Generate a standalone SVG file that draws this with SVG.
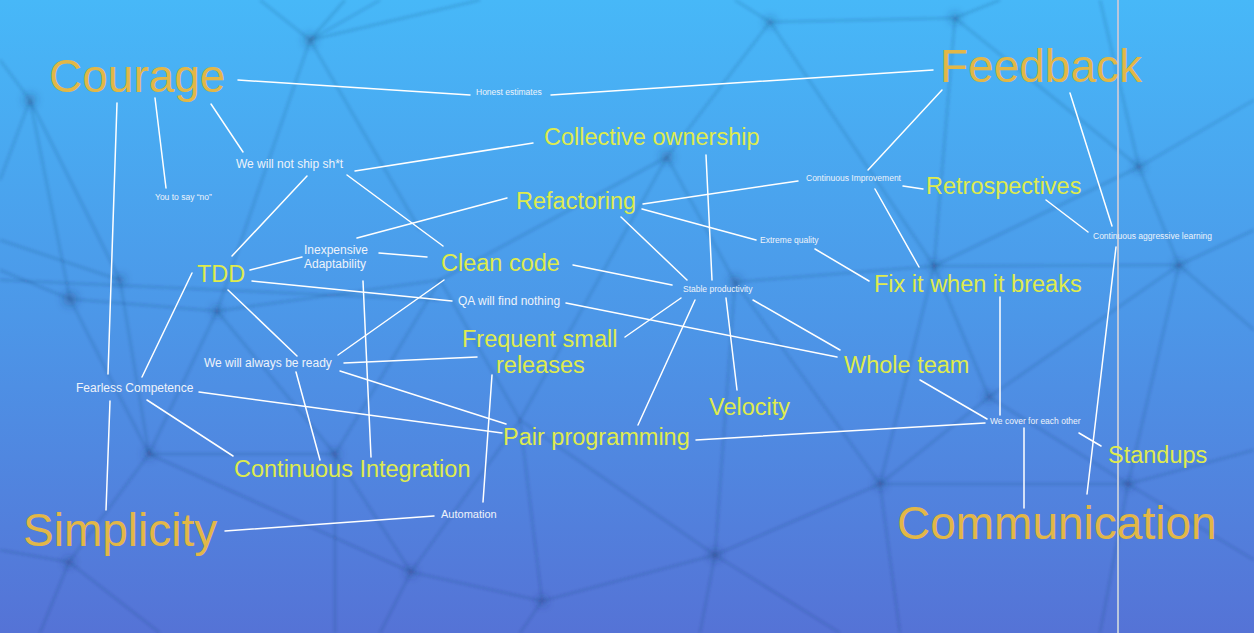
<svg xmlns="http://www.w3.org/2000/svg" width="1254" height="633" viewBox="0 0 1254 633">
<defs>
<linearGradient id="bg" x1="0" y1="0" x2="0" y2="1">
<stop offset="0" stop-color="#47b8f8"/>
<stop offset="0.5" stop-color="#4c97e8"/>
<stop offset="1" stop-color="#5573d6"/>
</linearGradient>
<filter id="blur" x="-5%" y="-5%" width="110%" height="110%"><feGaussianBlur stdDeviation="1.5"/></filter>
<filter id="blur2" x="-100%" y="-100%" width="300%" height="300%"><feGaussianBlur stdDeviation="4"/></filter>
</defs>
<style>
.big{font-family:"Liberation Sans",Arial,sans-serif;font-size:46px;fill:#e2b747}
.mid{font-family:"Liberation Sans",Arial,sans-serif;font-size:23.5px;fill:#dfeb4d}
.sm{font-family:"Liberation Sans",Arial,sans-serif;font-size:12px;fill:#eef3fa}
.xs{font-family:"Liberation Sans",Arial,sans-serif;font-size:8.5px;fill:#eef3fa}
.c line{stroke:#ffffff;stroke-width:1.5;stroke-linecap:round}
.net line{stroke:#1b3466;stroke-width:2;stroke-opacity:0.2}
.dots circle{fill:#1b3466;fill-opacity:0.35}
</style>
<rect width="1254" height="633" fill="url(#bg)"/>
<g class="net" filter="url(#blur)">
<line x1="310" y1="40" x2="260" y2="0"/>
<line x1="310" y1="40" x2="345" y2="0"/>
<line x1="310" y1="40" x2="480" y2="0"/>
<line x1="310" y1="40" x2="380" y2="0"/>
<line x1="310" y1="40" x2="217" y2="311"/>
<line x1="310" y1="40" x2="420" y2="230"/>
<line x1="30" y1="100" x2="0" y2="60"/>
<line x1="30" y1="100" x2="70" y2="299"/>
<line x1="30" y1="100" x2="120" y2="280"/>
<line x1="30" y1="100" x2="0" y2="180"/>
<line x1="70" y1="299" x2="0" y2="270"/>
<line x1="70" y1="299" x2="217" y2="311"/>
<line x1="70" y1="299" x2="149" y2="454"/>
<line x1="120" y1="280" x2="149" y2="454"/>
<line x1="120" y1="280" x2="0" y2="240"/>
<line x1="0" y1="280" x2="440" y2="300"/>
<line x1="217" y1="311" x2="335" y2="454"/>
<line x1="217" y1="311" x2="149" y2="454"/>
<line x1="217" y1="311" x2="440" y2="280"/>
<line x1="149" y1="454" x2="335" y2="454"/>
<line x1="149" y1="454" x2="69" y2="562"/>
<line x1="149" y1="454" x2="411" y2="572"/>
<line x1="69" y1="562" x2="0" y2="550"/>
<line x1="69" y1="562" x2="40" y2="633"/>
<line x1="69" y1="562" x2="160" y2="633"/>
<line x1="335" y1="454" x2="411" y2="572"/>
<line x1="335" y1="454" x2="335" y2="633"/>
<line x1="335" y1="454" x2="440" y2="280"/>
<line x1="411" y1="572" x2="542" y2="601"/>
<line x1="411" y1="572" x2="380" y2="633"/>
<line x1="411" y1="572" x2="520" y2="420"/>
<line x1="542" y1="601" x2="715" y2="555"/>
<line x1="542" y1="601" x2="520" y2="633"/>
<line x1="542" y1="601" x2="520" y2="420"/>
<line x1="520" y1="420" x2="440" y2="280"/>
<line x1="520" y1="420" x2="715" y2="555"/>
<line x1="440" y1="280" x2="667" y2="157"/>
<line x1="667" y1="157" x2="770" y2="22"/>
<line x1="667" y1="157" x2="735" y2="282"/>
<line x1="667" y1="157" x2="520" y2="420"/>
<line x1="770" y1="22" x2="955" y2="18"/>
<line x1="770" y1="22" x2="735" y2="0"/>
<line x1="770" y1="22" x2="934" y2="266"/>
<line x1="955" y1="18" x2="934" y2="266"/>
<line x1="955" y1="18" x2="1139" y2="167"/>
<line x1="955" y1="18" x2="1000" y2="0"/>
<line x1="735" y1="282" x2="934" y2="266"/>
<line x1="735" y1="282" x2="715" y2="555"/>
<line x1="735" y1="282" x2="880" y2="484"/>
<line x1="934" y1="266" x2="1179" y2="265"/>
<line x1="934" y1="266" x2="989" y2="397"/>
<line x1="934" y1="266" x2="1139" y2="167"/>
<line x1="934" y1="266" x2="880" y2="484"/>
<line x1="1139" y1="167" x2="1254" y2="100"/>
<line x1="1139" y1="167" x2="1100" y2="0"/>
<line x1="1139" y1="167" x2="1179" y2="265"/>
<line x1="1179" y1="265" x2="1254" y2="230"/>
<line x1="1179" y1="265" x2="1254" y2="330"/>
<line x1="1179" y1="265" x2="1128" y2="484"/>
<line x1="989" y1="397" x2="1128" y2="484"/>
<line x1="989" y1="397" x2="880" y2="484"/>
<line x1="989" y1="397" x2="1179" y2="265"/>
<line x1="880" y1="484" x2="715" y2="555"/>
<line x1="880" y1="484" x2="900" y2="633"/>
<line x1="880" y1="484" x2="1128" y2="484"/>
<line x1="1128" y1="484" x2="1254" y2="450"/>
<line x1="1128" y1="484" x2="1254" y2="560"/>
<line x1="1128" y1="484" x2="1100" y2="633"/>
<line x1="715" y1="555" x2="700" y2="633"/>
<line x1="715" y1="555" x2="840" y2="633"/>
</g>
<g class="dots" filter="url(#blur2)">
<circle cx="310" cy="40" r="6"/><circle cx="30" cy="100" r="6"/><circle cx="70" cy="299" r="7"/>
<circle cx="120" cy="280" r="5"/><circle cx="217" cy="311" r="5"/><circle cx="149" cy="454" r="5"/>
<circle cx="69" cy="562" r="5"/><circle cx="335" cy="454" r="5"/><circle cx="411" cy="572" r="5"/>
<circle cx="542" cy="601" r="5"/><circle cx="667" cy="157" r="6"/><circle cx="735" cy="282" r="6"/>
<circle cx="770" cy="22" r="5"/><circle cx="955" cy="18" r="5"/><circle cx="934" cy="266" r="5"/>
<circle cx="1139" cy="167" r="5"/><circle cx="1179" cy="265" r="5"/><circle cx="989" cy="397" r="5"/>
<circle cx="880" cy="484" r="5"/><circle cx="1128" cy="484" r="5"/><circle cx="715" cy="555" r="6"/>
</g>
<line x1="1118" y1="0" x2="1118" y2="633" stroke="#b9c6dc" stroke-width="2"/>
<g class="c" id="connectors">
<line x1="238" y1="80" x2="470" y2="95"/>
<line x1="551" y1="95" x2="933" y2="70"/>
<line x1="211" y1="104" x2="243" y2="152"/>
<line x1="155" y1="98" x2="166" y2="188"/>
<line x1="117" y1="103" x2="108" y2="374"/>
<line x1="110" y1="401" x2="106" y2="510"/>
<line x1="355" y1="171" x2="533" y2="143"/>
<line x1="307" y1="176" x2="232" y2="256"/>
<line x1="347" y1="175" x2="443" y2="246"/>
<line x1="250" y1="270" x2="302" y2="257"/>
<line x1="379" y1="253" x2="427" y2="257"/>
<line x1="507" y1="198" x2="357" y2="238"/>
<line x1="252" y1="281" x2="452" y2="301"/>
<line x1="228" y1="290" x2="297" y2="356"/>
<line x1="192" y1="273" x2="142" y2="377"/>
<line x1="444" y1="280" x2="338" y2="355"/>
<line x1="344" y1="363" x2="477" y2="357"/>
<line x1="340" y1="371" x2="506" y2="424"/>
<line x1="199" y1="392" x2="502" y2="433"/>
<line x1="296" y1="372" x2="320" y2="460"/>
<line x1="363" y1="281" x2="371" y2="457"/>
<line x1="147" y1="400" x2="233" y2="456"/>
<line x1="492" y1="375" x2="483" y2="502"/>
<line x1="225" y1="531" x2="434" y2="516"/>
<line x1="573" y1="265" x2="672" y2="285"/>
<line x1="621" y1="217" x2="687" y2="280"/>
<line x1="706" y1="155" x2="712" y2="280"/>
<line x1="643" y1="204" x2="798" y2="181"/>
<line x1="642" y1="209" x2="756" y2="240"/>
<line x1="815" y1="249" x2="869" y2="281"/>
<line x1="868" y1="170" x2="942" y2="90"/>
<line x1="903" y1="186" x2="923" y2="189"/>
<line x1="875" y1="189" x2="919" y2="267"/>
<line x1="1070" y1="93" x2="1112" y2="226"/>
<line x1="1046" y1="200" x2="1088" y2="232"/>
<line x1="1116" y1="247" x2="1087" y2="494"/>
<line x1="1000" y1="297" x2="1000" y2="415"/>
<line x1="920" y1="380" x2="987" y2="419"/>
<line x1="1079" y1="433" x2="1101" y2="446"/>
<line x1="1024" y1="428" x2="1024" y2="508"/>
<line x1="696" y1="440" x2="985" y2="423"/>
<line x1="695" y1="300" x2="638" y2="425"/>
<line x1="726" y1="298" x2="737" y2="390"/>
<line x1="753" y1="300" x2="840" y2="350"/>
<line x1="681" y1="298" x2="625" y2="337"/>
<line x1="566" y1="303" x2="837" y2="357"/>
</g>
<g id="courage"><text class="big" x="49" y="92">Courage</text></g>
<g id="feedback"><text class="big" x="940" y="82">Feedback</text></g>
<g id="simplicity"><text class="big" x="23" y="546">Simplicity</text></g>
<g id="communication"><text class="big" x="897" y="539">Communication</text></g>
<g id="collective-ownership"><text class="mid" x="544" y="145">Collective ownership</text></g>
<g id="refactoring"><text class="mid" x="516" y="209">Refactoring</text></g>
<g id="clean-code"><text class="mid" x="441" y="271">Clean code</text></g>
<g id="tdd"><text class="mid" x="197" y="282">TDD</text></g>
<g id="frequent-small-releases"><text class="mid" x="462" y="347">Frequent small</text><text class="mid" x="496" y="373">releases</text></g>
<g id="velocity"><text class="mid" x="709" y="415">Velocity</text></g>
<g id="pair-programming"><text class="mid" x="503" y="445">Pair programming</text></g>
<g id="continuous-integration"><text class="mid" x="234" y="477">Continuous Integration</text></g>
<g id="retrospectives"><text class="mid" x="926" y="194">Retrospectives</text></g>
<g id="fix-it"><text class="mid" x="874" y="292">Fix it when it breaks</text></g>
<g id="whole-team"><text class="mid" x="844" y="373">Whole team</text></g>
<g id="standups"><text class="mid" x="1108" y="463">Standups</text></g>
<g id="not-ship"><text class="sm" x="236" y="168">We will not ship sh*t</text></g>
<g id="inexpensive"><text class="sm" x="304" y="254">Inexpensive</text><text class="sm" x="304" y="268">Adaptability</text></g>
<g id="qa"><text class="sm" x="458" y="305">QA will find nothing</text></g>
<g id="always-ready"><text class="sm" x="204" y="367">We will always be ready</text></g>
<g id="fearless"><text class="sm" x="76" y="392">Fearless Competence</text></g>
<g id="automation"><text class="sm" x="441" y="518" style="font-size:11px">Automation</text></g>
<g id="honest"><text class="xs" x="476" y="95">Honest estimates</text></g>
<g id="say-no"><text class="xs" x="155" y="200">You to say “no”</text></g>
<g id="stable"><text class="xs" x="683" y="292">Stable productivity</text></g>
<g id="extreme"><text class="xs" x="760" y="243">Extreme quality</text></g>
<g id="improvement"><text class="xs" x="806" y="181">Continuous Improvement</text></g>
<g id="learning"><text class="xs" x="1093" y="239">Continuous aggressive learning</text></g>
<g id="cover"><text class="xs" x="990" y="424">We cover for each other</text></g>
</svg>
